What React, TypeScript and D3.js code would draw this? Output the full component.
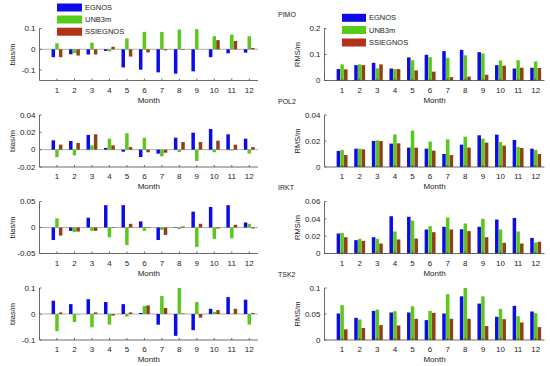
import React from 'react';
import * as d3 from 'd3';

// months on the x axis
const MONTHS = [1, 2, 3, 4, 5, 6, 7, 8, 9, 10, 11, 12];
const SERIES = ['EGNOS', 'UNB3m', 'SSIEGNOS'];
const STATIONS = ['PIMO', 'POL2', 'IRKT', 'TSK2'];

// bias (m) per station, one array per model
const PIMO_BIAS = {
  EGNOS: [-0.038, -0.024, -0.025, -0.008, -0.087, -0.098, -0.111, -0.117, -0.106, -0.038, -0.019, -0.016],
  UNB3m: [0.029, -0.018, 0.032, -0.01, 0.052, 0.084, 0.083, 0.095, 0.097, 0.063, 0.071, 0.063],
  SSIEGNOS: [-0.038, -0.03, -0.025, 0.012, -0.035, -0.015, -0.005, -0.003, 0.0, 0.044, 0.04, 0.006],
};
const POL2_BIAS = {
  EGNOS: [0.0108, 0.01, 0.017, 0.002, -0.0023, -0.0085, -0.0046, 0.0138, 0.0196, 0.0238, 0.0177, 0.0127],
  UNB3m: [-0.0085, -0.0065, 0.005, 0.0127, 0.019, 0.0138, -0.0077, -0.0027, -0.013, -0.003, -0.001, -0.0046],
  SSIEGNOS: [0.0058, 0.0077, 0.0177, 0.005, 0.003, -0.003, -0.0035, 0.0088, 0.0088, 0.0104, 0.0058, 0.003],
};
const IRKT_BIAS = {
  EGNOS: [-0.024, -0.0065, 0.0188, 0.0429, 0.0429, 0.0117, -0.024, 0.001, 0.0305, 0.0396, 0.0429, 0.0097],
  UNB3m: [0.0175, -0.009, -0.0065, -0.0188, -0.0338, -0.0065, -0.0045, -0.003, -0.0377, -0.022, -0.0208, 0.0071],
  SSIEGNOS: [-0.0156, -0.0078, -0.0065, -0.001, 0.0071, 0.001, -0.0143, 0.002, 0.0071, -0.002, 0.0052, -0.002],
};
const TSK2_BIAS = {
  EGNOS: [0.051, 0.038, 0.057, 0.046, 0.038, 0.004, -0.041, -0.084, -0.062, 0.02, 0.065, 0.055],
  UNB3m: [-0.066, -0.031, -0.051, -0.041, -0.01, 0.031, 0.069, 0.1, 0.046, 0.008, 0.001, -0.041],
  SSIEGNOS: [0.006, -0.001, 0.006, -0.006, 0.006, 0.033, 0.023, 0.002, -0.014, 0.015, 0.02, 0.004],
};

// RMS (m) per station
const PIMO_RMS = {
  EGNOS: [0.044, 0.059, 0.068, 0.046, 0.089, 0.099, 0.113, 0.118, 0.109, 0.059, 0.046, 0.049],
  UNB3m: [0.062, 0.062, 0.047, 0.044, 0.078, 0.09, 0.087, 0.097, 0.104, 0.077, 0.078, 0.073],
  SSIEGNOS: [0.043, 0.059, 0.062, 0.044, 0.039, 0.034, 0.013, 0.015, 0.022, 0.057, 0.049, 0.048],
};
const POL2_RMS = {
  EGNOS: [0.0123, 0.0141, 0.02, 0.018, 0.0149, 0.0141, 0.01, 0.0172, 0.0244, 0.0249, 0.0208, 0.0141],
  UNB3m: [0.0131, 0.0141, 0.0205, 0.025, 0.028, 0.0195, 0.0213, 0.0233, 0.0218, 0.0192, 0.0154, 0.0131],
  SSIEGNOS: [0.0092, 0.0136, 0.02, 0.0182, 0.0149, 0.0126, 0.0092, 0.0149, 0.0187, 0.0164, 0.0146, 0.01],
};
const IRKT_RMS = {
  EGNOS: [0.0231, 0.0154, 0.0188, 0.043, 0.0423, 0.0277, 0.0308, 0.028, 0.0308, 0.0392, 0.041, 0.018],
  UNB3m: [0.0238, 0.0169, 0.0169, 0.0254, 0.038, 0.0315, 0.0415, 0.0346, 0.04, 0.0277, 0.0254, 0.0127],
  SSIEGNOS: [0.0188, 0.0146, 0.0115, 0.0162, 0.0173, 0.0246, 0.0277, 0.0258, 0.0188, 0.0123, 0.0115, 0.0135],
};
const TSK2_RMS = {
  EGNOS: [0.051, 0.0427, 0.056, 0.0529, 0.0529, 0.0382, 0.051, 0.084, 0.07, 0.0446, 0.0656, 0.0548],
  UNB3m: [0.067, 0.0395, 0.0586, 0.0554, 0.065, 0.056, 0.088, 0.1, 0.084, 0.06, 0.0459, 0.0516],
  SSIEGNOS: [0.0204, 0.023, 0.0287, 0.028, 0.0408, 0.0522, 0.0408, 0.0408, 0.0268, 0.04, 0.0338, 0.0248],
};

const BIAS = [PIMO_BIAS, POL2_BIAS, IRKT_BIAS, TSK2_BIAS];
const RMS = [PIMO_RMS, POL2_RMS, IRKT_RMS, TSK2_RMS];

// y domains and tick values per row
const BIAS_DOMAINS = [[-0.15, 0.1], [-0.02, 0.04], [-0.05, 0.05], [-0.1, 0.1]];
const BIAS_TICKS = [[-0.1, 0, 0.1], [-0.02, 0, 0.02, 0.04], [-0.05, 0, 0.05], [-0.1, 0, 0.1]];
const RMS_DOMAINS = [[0, 0.2], [0, 0.04], [0, 0.06], [0, 0.1]];
const RMS_TICKS = [[0, 0.1, 0.2], [0, 0.02, 0.04], [0, 0.02, 0.04, 0.06], [0, 0.05, 0.1]];

const COLORS = { EGNOS: '#0c0ce8', UNB3m: '#5cc81e', SSIEGNOS: '#8e4216' };
const LEGEND_COLORS = { EGNOS: '#0c0ce8', UNB3m: '#55cc1a', SSIEGNOS: '#b2321a' };

const FONT = 'Arial, "Liberation Sans", sans-serif';
const AXIS = '#444';
const TEXT = '#222';

const ROW_TOPS = [28.5, 115, 201.5, 288];
const PANEL_H = 52;

function fmt(v: number) {
  if (v === 0) return '0';
  return String(v);
}

function Panel({ x0, x1, top, data, domain, ticks, ylabel, baseline }) {
  const bottom = top + PANEL_H;
  const x = d3.scaleLinear().domain([0, 12.5]).range([x0, x1]);
  const y = d3.scaleLinear().domain(domain).range([bottom, top]);
  const bw = x(0.2) - x(0);
  const off = x(0.21) - x(0);

  return (
    <g>
      {baseline && (
        <line x1={x0} x2={x1} y1={y(0)} y2={y(0)} stroke="#999" strokeWidth={0.8} />
      )}
      {SERIES.map((s, si) =>
        data[s].map((v, i) => {
          const cx = x(MONTHS[i]) + (si - 1) * off;
          return (
            <rect
              key={s + i}
              x={cx - bw / 2}
              y={Math.min(y(v), y(0))}
              width={bw}
              height={Math.abs(y(v) - y(0))}
              fill={COLORS[s]}
            />
          );
        })
      )}
      {/* axes */}
      <line x1={x0} x2={x0} y1={top} y2={bottom} stroke={AXIS} strokeWidth={0.8} />
      <line x1={x0} x2={x1} y1={bottom} y2={bottom} stroke={AXIS} strokeWidth={0.8} />
      {ticks.map(t => (
        <g key={t}>
          <line x1={x0} x2={x0 + 2} y1={y(t)} y2={y(t)} stroke={AXIS} strokeWidth={0.8} />
          <text x={x0 - 4} y={y(t)} dy="0.35em" textAnchor="end" fontSize={8} fill={TEXT}>
            {fmt(t)}
          </text>
        </g>
      ))}
      {MONTHS.map(m => (
        <g key={m}>
          <line x1={x(m)} x2={x(m)} y1={bottom} y2={bottom - 2} stroke={AXIS} strokeWidth={0.8} />
          <text x={x(m)} y={bottom + 12} textAnchor="middle" fontSize={8} fill={TEXT}>
            {m}
          </text>
        </g>
      ))}
      <text x={(x0 + x1) / 2} y={bottom + 22} textAnchor="middle" fontSize={8} fill={TEXT}>
        Month
      </text>
      <text
        transform={`translate(${x0 - 25},${(top + bottom) / 2}) rotate(-90)`}
        textAnchor="middle"
        fontSize={7.5}
        fill={TEXT}
      >
        {ylabel}
      </text>
    </g>
  );
}

function Legend({ x, ys, boxW }) {
  return (
    <g>
      {SERIES.map((s, i) => (
        <g key={s}>
          <rect x={x} y={ys[i] - 4} width={boxW} height={8} fill={LEGEND_COLORS[s]} />
          <text x={x + boxW + 3} y={ys[i]} dy="0.35em" fontSize={7.5} fill={TEXT}>
            {s}
          </text>
        </g>
      ))}
    </g>
  );
}

export default function App() {
  return (
    <svg
      width={550}
      height={366}
      style={{ position: 'absolute', left: 0, top: 0, background: '#fff' }}
      fontFamily={FONT}
    >
      {STATIONS.map((st, r) => (
        <g key={st}>
          <Panel
            x0={39.5}
            x1={258}
            top={ROW_TOPS[r]}
            data={BIAS[r]}
            domain={BIAS_DOMAINS[r]}
            ticks={BIAS_TICKS[r]}
            ylabel="bias/m"
            baseline
          />
          <Panel
            x0={324.5}
            x1={544.5}
            top={ROW_TOPS[r]}
            data={RMS[r]}
            domain={RMS_DOMAINS[r]}
            ticks={RMS_TICKS[r]}
            ylabel="RMS/m"
            baseline={false}
          />
          <text x={278} y={ROW_TOPS[r] - 13.5} dy="0.35em" fontSize={7} fill={TEXT}>
            {st}
          </text>
        </g>
      ))}
      <Legend x={57} ys={[7.5, 19.5, 31.7]} boxW={25} />
      <Legend x={342} ys={[17.8, 30, 42.5]} boxW={24} />
    </svg>
  );
}
